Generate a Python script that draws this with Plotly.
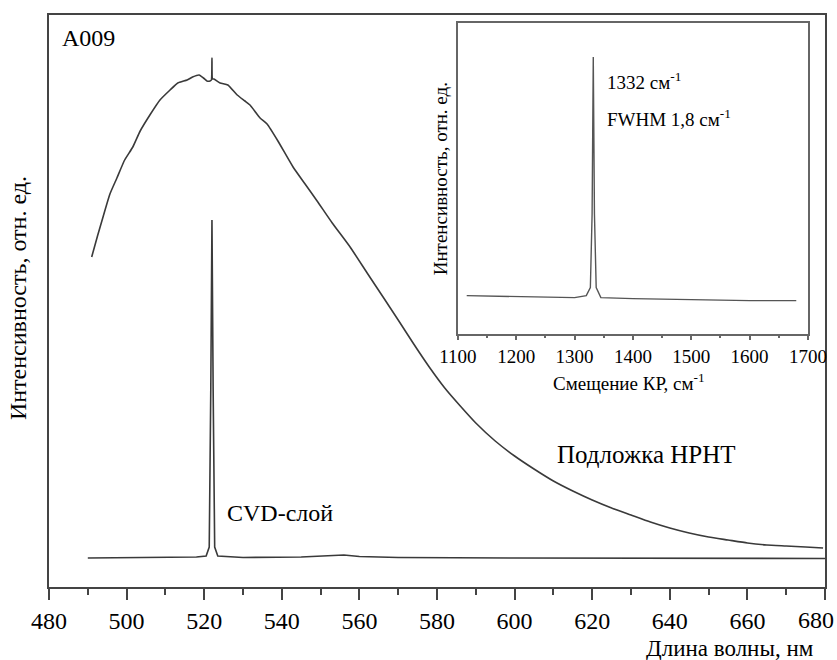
import plotly.graph_objects as go

# Main spectrum: HPHT substrate photoluminescence (wavelength, nm -> intensity, a.u.)
hpht_wl = [491.0, 492.5, 494.0, 495.7, 497.5, 499.5, 501.6, 503.5, 506.0, 508.6,
           511.2, 513.2, 515.6, 517.0, 518.7, 519.8, 520.7, 521.5, 521.85, 522.0,
           522.15, 522.5, 524.1, 526.1, 528.5, 530.5, 531.8, 534.4, 536.2, 539.0,
           542.9, 546.0, 549.1, 553.0, 557.6, 562.0, 566.1, 570.0, 574.0, 578.0,
           582.0, 586.0, 590.0, 595.0, 600.0, 605.0, 610.0, 615.0, 620.0, 625.0,
           630.0, 635.0, 640.0, 645.0, 650.0, 655.0, 660.0, 665.0, 670.0, 675.0,
           679.5]
hpht_int = [330, 351, 371, 393, 409, 427, 440, 456, 472, 487,
            497, 504, 507, 510, 512, 509, 506, 506, 507, 529,
            508, 508, 504, 502, 492, 486, 482, 469, 463, 446,
            420, 403, 386, 364, 340, 314, 290, 267, 243, 220,
            199, 181, 164, 146, 131, 118, 106, 96, 87, 79,
            72, 65, 59, 54, 50, 47, 44, 42, 41, 40,
            39]

# CVD layer spectrum
cvd_wl = [490, 500, 510, 518, 520.5, 521.3, 521.7, 522.0, 522.3, 522.7,
          523.5, 530, 545, 552, 556, 560, 570, 600, 640, 680]
cvd_int = [29, 29.5, 29.5, 30, 31, 40, 200, 367, 200, 40,
           31, 29.5, 30, 31, 32, 30.5, 29.5, 29, 28.5, 28.5]

# Inset: Raman spectrum (shift, cm-1 -> intensity, a.u.)
raman_shift = [1115, 1200, 1300, 1320, 1327, 1330, 1332, 1334, 1337, 1345,
               1400, 1500, 1600, 1680]
raman_int = [38, 37, 36, 38, 46, 120, 277, 120, 46, 36,
             35, 34, 33, 33]

x_ticks_main = [480, 500, 520, 540, 560, 580, 600, 620, 640, 660, 680]
x_ticklabels_main = ["480", "500", "520", "540", "560", "580", "600", "620",
                     "640", "660", ""]
x_tick_last = [680]
x_ticks_inset = [1100, 1200, 1300, 1400, 1500, 1600, 1700]

FONT = "Times New Roman, Liberation Serif, Times, serif"
LINE = "#3a3a3a"

fig = go.Figure()
fig.add_trace(go.Scatter(x=hpht_wl, y=hpht_int, mode="lines",
                         line=dict(color=LINE, width=1.6, shape="spline", smoothing=0.5),
                         showlegend=False))
fig.add_trace(go.Scatter(x=cvd_wl, y=cvd_int, mode="lines",
                         line=dict(color=LINE, width=1.6), showlegend=False))
fig.add_trace(go.Scatter(x=raman_shift, y=raman_int, mode="lines",
                         line=dict(color="#555555", width=1.4), showlegend=False,
                         xaxis="x2", yaxis="y2"))

fig.update_layout(
    width=837, height=660,
    margin=dict(l=49, r=12, t=15, b=73, autoexpand=False),
    paper_bgcolor="white", plot_bgcolor="white",
    font=dict(family=FONT, color="black"),
    xaxis=dict(range=[480, 680], tickvals=x_ticks_main, ticktext=x_ticklabels_main,
               ticks="outside",
               ticklen=11, tickwidth=2, tickcolor="#444", automargin=False,
               showline=True, linewidth=2, linecolor="#444", mirror=True,
               showgrid=False, zeroline=False,
               tickfont=dict(family=FONT, size=24, color="black"),
               minor=dict(dtick=10, tick0=480, ticks="outside", ticklen=6,
                          tickwidth=2, tickcolor="#444", showgrid=False)),
    xaxis3=dict(range=[480, 680], overlaying="x", anchor="y", side="bottom",
                tickvals=x_tick_last, ticks="outside", ticklen=11,
                tickcolor="rgba(0,0,0,0)", ticklabelshift=-9,
                showline=False, showgrid=False, zeroline=False, automargin=False,
                tickfont=dict(family=FONT, size=24, color="black")),
    yaxis=dict(range=[0, 572], showticklabels=False, ticks="", automargin=False,
               showline=True, linewidth=2, linecolor="#444", mirror=True,
               showgrid=False, zeroline=False),
    xaxis2=dict(domain=[0.527, 0.978], anchor="y2", range=[1100, 1700],
                tickvals=x_ticks_inset, ticks="outside", ticklen=5, tickwidth=1.5,
                tickcolor="#666", showline=True, linewidth=1.5, linecolor="#666",
                mirror=True, showgrid=False, zeroline=False, automargin=False,
                tickfont=dict(family=FONT, size=19, color="black"),
                minor=dict(dtick=50, tick0=1100, ticks="outside", ticklen=3,
                           tickwidth=1.5, tickcolor="#666", showgrid=False)),
    yaxis2=dict(domain=[0.443, 0.986], anchor="x2", range=[0, 311],
                showticklabels=False, ticks="", showline=True, linewidth=1.5,
                linecolor="#666", mirror=True, showgrid=False, zeroline=False,
                automargin=False),
)

# an invisible trace so the overlay axis for the last tick label is drawn
fig.add_trace(go.Scatter(x=[680], y=[0], mode="markers", xaxis="x3", yaxis="y",
                         marker=dict(opacity=0), hoverinfo="skip", showlegend=False))

ann = [
    dict(text="A009", x=0.0142, y=0.96, xref="paper", yref="paper",
         xanchor="left", yanchor="middle", font=dict(size=24)),
    dict(text="Интенсивность, отн. ед.", x=-0.040, y=0.505, xref="paper",
         yref="paper", textangle=-90, xanchor="center", yanchor="middle",
         font=dict(size=24)),
    dict(text="Длина волны, нм", x=0.988, y=-0.107, xref="paper", yref="paper",
         xanchor="right", yanchor="middle", font=dict(size=23)),
    dict(text="CVD-слой", x=525.4, y=74, xref="x", yref="y",
         xanchor="left", yanchor="middle", font=dict(size=24)),
    dict(text="Подложка HPHT", x=610.4, y=133, xref="x", yref="y",
         xanchor="left", yanchor="middle", font=dict(size=25)),
    dict(text="1332 см<sup>-1</sup>", x=1352, y=253, xref="x2", yref="y2",
         xanchor="left", yanchor="middle", font=dict(size=19)),
    dict(text="FWHM 1,8 см<sup>-1</sup>", x=1352, y=216, xref="x2", yref="y2",
         xanchor="left", yanchor="middle", font=dict(size=19)),
    dict(text="Интенсивность, отн. ед.", x=0.504, y=0.713, xref="paper",
         yref="paper", textangle=-90, xanchor="center", yanchor="middle",
         font=dict(size=19)),
    dict(text="Смещение КР, см<sup>-1</sup>", x=0.748, y=(587 - 382) / 572,
         xref="paper", yref="paper", xanchor="center", yanchor="middle",
         font=dict(size=19)),
]
for a in ann:
    a["showarrow"] = False
fig.update_layout(annotations=ann)

fig.write_html("out.html")
